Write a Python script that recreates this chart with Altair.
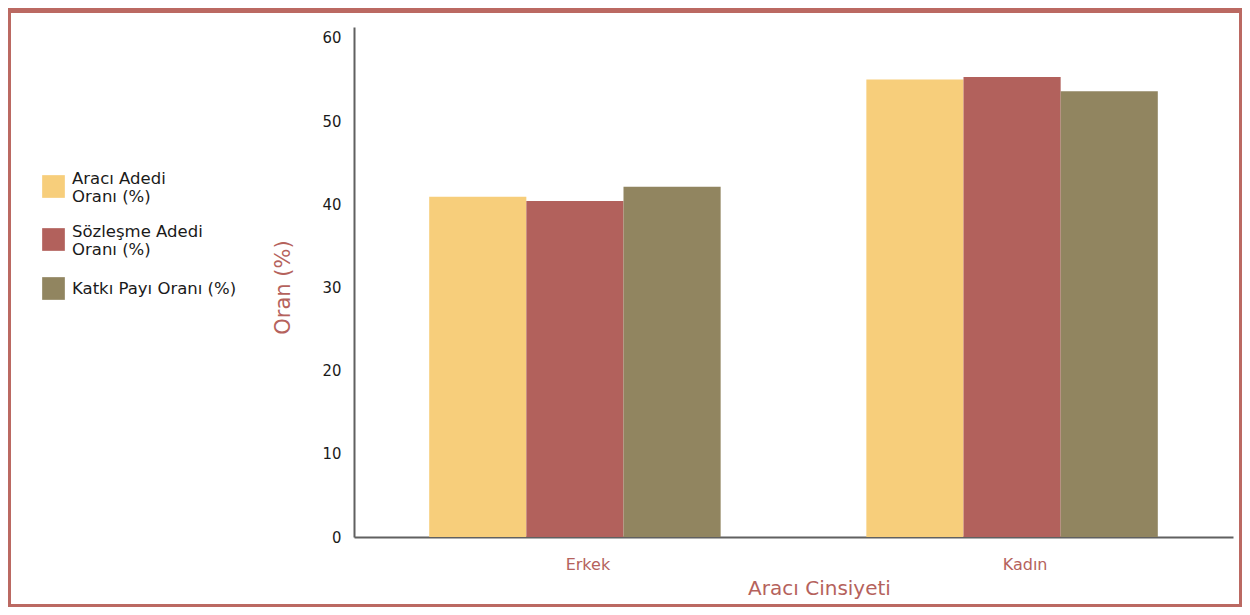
import json
import altair as alt
import pandas as pd

# ---- data ----
categories = ["Erkek", "Kadın"]
series = ["Aracı Adedi Oranı (%)", "Sözleşme Adedi Oranı (%)", "Katkı Payı Oranı (%)"]
legend_lines = [["Aracı Adedi", "Oranı (%)"], ["Sözleşme Adedi", "Oranı (%)"], ["Katkı Payı Oranı (%)"]]
araci_adedi = [40.9, 55.0]
sozlesme_adedi = [40.4, 55.3]
katki_payi = [42.1, 53.6]
colors = ["#F7CE7B", "#B2615C", "#918560"]
y_ticks = [0, 10, 20, 30, 40, 50, 60]

values_by_series = [araci_adedi, sozlesme_adedi, katki_payi]
rows = []
for s, vals in zip(series, values_by_series):
    for c, v in zip(categories, vals):
        rows.append({"Cinsiyet": c, "Seri": s, "Oran": v})
df = pd.DataFrame(rows)

FONT = "DejaVu Sans, sans-serif"
FONT_COND = "DejaVu Sans Condensed, DejaVu Sans, sans-serif"
RED_TXT = "#B5625C"
FRAME = "#BB6962"

W, H = 879, 510
PL, PT, PR, PB = 346, 19, 9, 70

x_enc = alt.X(
    "Cinsiyet:N",
    sort=categories,
    scale=alt.Scale(paddingInner=0.3333, paddingOuter=0.172),
    axis=alt.Axis(
        title="Aracı Cinsiyeti",
        labelAngle=0,
        ticks=False,
        labelColor=RED_TXT,
        labelFont=FONT,
        labelFontSize=16,
        labelPadding=19,
        labelOffset=13,
        titleColor=RED_TXT,
        titleFont=FONT,
        titleFontSize=20,
        titleFontWeight="normal",
        titleX=465,
        titleY=51,
        titleBaseline="middle",
        domainColor="#606060",
        domainWidth=2,
    ),
)
xo_enc = alt.XOffset("Seri:N", sort=series,
                     scale=alt.Scale(domain=series, paddingInner=0, paddingOuter=0))
y_enc = alt.Y(
    "Oran:Q",
    scale=alt.Scale(domain=[0, 61.32], nice=False, zero=True),
    axis=alt.Axis(
        title="Oran (%)",
        values=y_ticks,
        grid=False,
        ticks=False,
        labelColor="#1A1A1A",
        labelFont=FONT_COND,
        labelFontSize=16.5,
        labelPadding=13,
        titleColor=RED_TXT,
        titleFont=FONT,
        titleFontSize=21,
        titleFontWeight="normal",
        titleX=-71,
        titleY=260,
        titleAngle=270,
        titleBaseline="middle",
        domainColor="#606060",
        domainWidth=2,
    ),
)


def expr_for(names, lines):
    return " : ".join(
        f"datum.label == {json.dumps(s)} ? {json.dumps(l)}" for s, l in zip(names, lines)
    ) + " : datum.label"


legend_common = dict(
    title=None,
    orient="none",
    legendX=-312,
    symbolType="square",
    symbolSize=515,
    symbolStrokeWidth=0,
    symbolOpacity=1,
    labelFont=FONT,
    labelFontSize=16.5,
    labelColor="#1A1A1A",
    labelOffset=7,
    labelLimit=400,
)

two_line = series[:2]
one_line = series[2:]

bars_a = alt.Chart(df).transform_filter(
    alt.FieldOneOfPredicate(field="Seri", oneOf=two_line)
).mark_bar().encode(
    x=x_enc,
    xOffset=xo_enc,
    y=y_enc,
    color=alt.Color(
        "Seri:N",
        sort=two_line,
        scale=alt.Scale(domain=two_line, range=colors[:2]),
        legend=alt.Legend(
            legendY=148,
            labelBaseline="bottom",
            rowPadding=17,
            labelExpr=expr_for(two_line, legend_lines[:2]),
            **legend_common,
        ),
    ),
)

bars_b = alt.Chart(df).transform_filter(
    alt.FieldOneOfPredicate(field="Seri", oneOf=one_line)
).mark_bar().encode(
    x=x_enc,
    xOffset=xo_enc,
    y=y_enc,
    fill=alt.Fill(
        "Seri:N",
        sort=one_line,
        scale=alt.Scale(domain=one_line, range=colors[2:]),
        legend=alt.Legend(
            legendY=250,
            labelBaseline="middle",
            **legend_common,
        ),
    ),
)

frame_data = alt.Data(values=[{}])
frame = alt.Chart(frame_data).mark_rect(filled=False, stroke=FRAME, strokeWidth=3).encode(
    x=alt.value(-PL + 1.5),
    x2=alt.value(W + PR - 1.5),
    y=alt.value(-PT + 2),
    y2=alt.value(H + PB - 1.5),
)
top_band = alt.Chart(frame_data).mark_rule(stroke=FRAME, strokeWidth=5).encode(
    x=alt.value(-PL),
    x2=alt.value(W + PR),
    y=alt.value(-PT + 2.5),
)

chart = (
    alt.layer(bars_a, bars_b, frame, top_band)
    .properties(
        width=W,
        height=H,
        padding={"left": PL, "top": PT, "right": PR, "bottom": PB},
        autosize=alt.AutoSizeParams(type="none"),
        background="white",
    )
    .configure(font=FONT)
    .configure_view(strokeWidth=0, stroke=None)
)

chart.save("out.html", embed_options={"renderer": "svg", "actions": False})
